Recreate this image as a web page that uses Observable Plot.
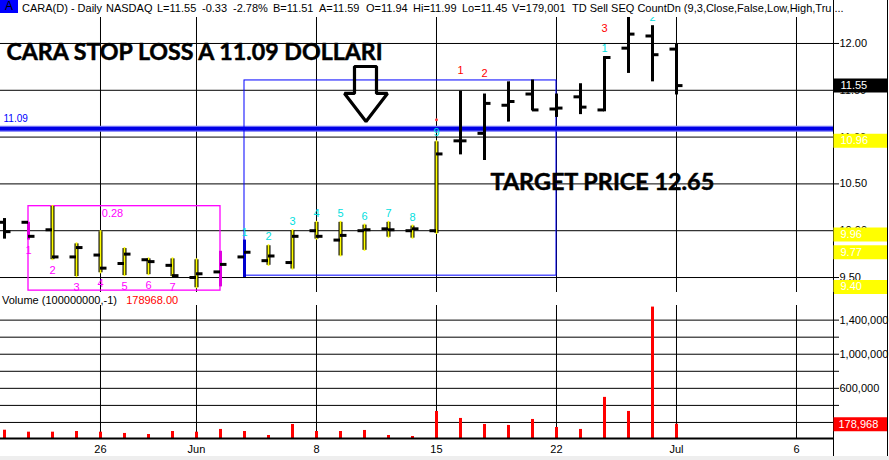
<!DOCTYPE html>
<html>
<head>
<meta charset="utf-8">
<script src="https://cdn.jsdelivr.net/npm/d3@7"></script>
<script src="https://cdn.jsdelivr.net/npm/@observablehq/plot@0.6"></script>
<style>
  body { margin: 0; background: #fff; }
  #wrap { position: relative; width: 889px; height: 460px; overflow: hidden; background: #fff;
          font-family: "Liberation Sans", Arial, sans-serif; }
  #wrap svg { position: absolute; left: 0; }
  .hdr { position: absolute; top: 0; left: 0; width: 832px; height: 17px; background: #fff; }
  .hdr span { position: absolute; top: 2px; font-size: 11px; color: #000; white-space: pre; }
  .hdr .sym { left: 0; top: 0; width: 18px; height: 13px; background: #0000ff; color: #000;
              text-align: center; font-size: 12px; line-height: 13px; }
  .vol-title { position: absolute; top: 294px; left: 2px; font-size: 11px; color: #000; white-space: pre; }
  .vol-title b { font-weight: normal; color: #ff0000; }
  .edge { position: absolute; left: 887px; top: 0; width: 1px; height: 456px; background: #000; }
  .foot { position: absolute; left: 0; top: 456px; width: 889px; height: 4px; background: #eeeeee; }
</style>
</head>
<body>
<div id="wrap"></div>
<script>
// Daily bars for CARA, May 19 – Jun 29 (index = trading-day position)
const days = ["May 19","May 20","May 21","May 22","May 26","May 27","May 28","May 29",
  "Jun 1","Jun 2","Jun 3","Jun 4","Jun 5","Jun 8","Jun 9","Jun 10","Jun 11","Jun 12",
  "Jun 15","Jun 16","Jun 17","Jun 18","Jun 19","Jun 22","Jun 23","Jun 24","Jun 25","Jun 26","Jun 29"];
const open  = [10.09,10.09,10.01, 9.72, 9.74, 9.65, 9.69, 9.63, 9.50, 9.56, 9.72, 9.68, 9.66,10.00, 9.90,10.00,10.02,10.00,10.00,10.96,11.04,11.34,11.46,11.30,11.43,11.29,11.95,12.08,11.94];
const high  = [10.13,10.09,10.27, 9.87,10.00, 9.82, 9.71, 9.71, 9.70, 9.78, 9.90, 9.85,10.01,10.10,10.10,10.07,10.10,10.06,10.96,11.49,11.46,11.59,11.61,11.46,11.57,11.86,12.30,12.19,11.99];
const low   = [ 9.91, 9.90, 9.68, 9.50, 9.54, 9.51, 9.52, 9.50, 9.38, 9.40, 9.50, 9.62, 9.58, 9.90, 9.72, 9.78, 9.92, 9.91, 9.96,10.81,10.75,11.16,11.28,11.21,11.24,11.27,11.68,11.59,11.45];
const close = [ 9.99, 9.94, 9.72, 9.82, 9.60, 9.75, 9.67, 9.52, 9.54, 9.64, 9.77, 9.73, 9.94, 9.94, 9.95,10.01,10.01,10.02,10.82,10.96,11.36,11.38,11.29,11.31,11.32,11.85,12.10,11.88,11.55];
const volume = [109000,86000,86000,94000,86000,71000,59000,94000,86000,118000,94000,47000,176000,94000,94000,106000,
  47000,35000,329000,247000,176000,165000,235000,141000,118000,494000,329000,1553000,178968];

// bar styling groups (TD setup colouring)
const yellowBars  = [2,3,4,5,6,7,8,11,12,13,14,15,16,17,18];
const magentaBars = [1,9];
const blueBars    = [10];

// TD count numbers
const buyCount   = [[1,"1"],[2,"2"],[3,"3"],[4,"4"],[5,"5"],[6,"6"],[7,"7"]];
const sellSetup  = [[10,"1"],[11,"2"],[12,"3"],[13,"4"],[14,"5"],[15,"6"],[16,"7"],[17,"8"],[18,"9"],[25,"1"],[27,"2"]];
const countdown  = [[19,"1"],[20,"2"],[25,"3"]];

// x axis labels (week starts)
const weekTicks  = [4, 8, 13, 18, 23, 28, 33];
const weekLabels = ["26", "Jun", "8", "15", "22", "Jul", "6"];

// price axis and volume axis ticks
const priceTicks = [9.5, 10, 10.5, 11, 11.5, 12];
const volTicks   = [200000, 400000, 600000, 800000, 1000000, 1200000, 1400000];

// annotations
const stopLoss = 11.09;
const target = 12.65;
const magentaBox = {x1: 1, x2: 9, y1: 9.36, y2: 10.262, label: "0.28"};
const blueBox = {x1: 10, x2: 23, y1: 9.52, y2: 11.605};
const arrowShape = [[14.583,11.754],[15.5,11.754],[15.5,11.466],[15.958,11.466],[15.063,11.167],[14.167,11.466],[14.583,11.466]];
const last = days.length - 1;
const priceFlags = [
  {v: close[last], fill: "#000"},
  {v: high[18], fill: "#ffff00"},
  {v: low[18], fill: "#ffff00"},
  {v: close[10], fill: "#ffff00"},
  {v: low[9], fill: "#ffff00"}
];

const bars = days.map((d, i) => ({i, d, o: open[i], h: high[i], l: low[i], c: close[i], v: volume[i]}));
const xDomain = [-1/6, 34.542];
const xMax = xDomain[1];
const unit = (xDomain[1] - xDomain[0]) / 833;       // x units per pixel
const sel = (ids) => bars.filter(b => ids.includes(b.i));
const plain = bars.filter(b => !yellowBars.includes(b.i) && !magentaBars.includes(b.i) && !blueBars.includes(b.i));
const lbl = (arr) => arr.map(([i, t]) => ({i, t, h: high[i], l: low[i]}));
const hasSetup = (i) => sellSetup.some(s => s[0] === i);
const font = "Liberation Sans, Arial, sans-serif";
const big = "Lato, 'Open Sans', sans-serif";

const price = Plot.plot({
  width: 889, height: 292,
  marginLeft: 0, marginRight: 56, marginTop: 0, marginBottom: 0,
  style: {fontFamily: font, fontSize: "11px", background: "transparent", overflow: "visible"},
  x: {type: "linear", domain: xDomain, axis: null},
  y: {domain: [9.34, 12.459], axis: null},
  marks: [
    Plot.ruleY(priceTicks, {stroke: "#000", strokeWidth: 1}),
    Plot.ruleX(weekTicks, {stroke: "#000", strokeWidth: 1}),
    Plot.ruleY([stopLoss], {stroke: "#6f6ff6", strokeWidth: 6}),
    Plot.ruleY([stopLoss], {stroke: "#0000e6", strokeWidth: 3.5}),
    Plot.text([stopLoss], {x: xDomain[0], y: d => d, text: d => d.toFixed(2), dx: 3, dy: -10, textAnchor: "start", fill: "#0000ff", fontSize: 10}),
    Plot.rect([magentaBox], {x1: "x1", x2: "x2", y1: "y1", y2: "y2", fill: "none", stroke: "#ff00ff", strokeWidth: 1.3}),
    Plot.text([magentaBox], {x: d => (d.x1 + d.x2) / 2 - 0.5, y: "y2", text: "label", dy: 7, fill: "#ff00ff", fontSize: 11}),
    Plot.rect([blueBox], {x1: "x1", x2: "x2", y1: "y1", y2: "y2", fill: "none", stroke: "#0000ff", strokeWidth: 1}),
    // plain OHLC bars
    Plot.ruleX(plain, {x: "i", y1: "l", y2: "h", stroke: "#000", strokeWidth: 3}),
    Plot.ruleX(sel(magentaBars), {x: "i", y1: "l", y2: "h", stroke: "#e000e0", strokeWidth: 3}),
    Plot.ruleX(sel(blueBars), {x: "i", y1: "l", y2: "h", stroke: "#0000d0", strokeWidth: 3}),
    Plot.ruleX(sel(yellowBars), {x: "i", y1: "l", y2: "h", stroke: "#000", strokeWidth: 4, insetTop: -1, insetBottom: -1}),
    Plot.ruleX(sel(yellowBars), {x: "i", y1: "l", y2: "h", stroke: "#ffff00", strokeWidth: 1.8}),
    Plot.ruleY(bars, {y: "o", x1: d => d.i - 6.5 * unit, x2: d => d.i, stroke: "#000", strokeWidth: 3}),
    Plot.ruleY(bars, {y: "c", x1: d => d.i, x2: d => d.i + 6.5 * unit, stroke: "#000", strokeWidth: 3}),
    // TD numbers
    Plot.text(lbl(buyCount), {x: "i", y: "l", text: "t", dy: 10, fill: "#ff00ff", fontSize: 11}),
    Plot.text(lbl(sellSetup), {x: "i", y: "h", text: "t", dy: -8, fill: "#00e0e0", fontSize: 11}),
    Plot.text(lbl(countdown).filter(d => !hasSetup(d.i)), {x: "i", y: "h", text: "t", dy: -21, fill: "#ff0000", fontSize: 11}),
    Plot.text(lbl(countdown).filter(d => hasSetup(d.i)), {x: "i", y: "h", text: "t", dy: -28, fill: "#ff0000", fontSize: 11}),
    Plot.dot([18], {x: d => d, y: d => high[d], dy: -21, r: 1.5, fill: "#ff4040", stroke: null}),
    // annotations
    Plot.line(arrowShape, {x: d => d[0], y: d => d[1], curve: "linear-closed", stroke: "#000", strokeWidth: 3.2, fill: "none", strokeLinejoin: "miter"}),
    Plot.text([stopLoss], {x: 0.08, y: 11.905, text: d => `CARA STOP LOSS A ${d.toFixed(2)} DOLLARI`, textAnchor: "start", fontFamily: big, fontWeight: "bold", fontSize: 23.2, fill: "#000", stroke: "#000", strokeWidth: 0.5}),
    Plot.text([target], {x: 20.25, y: 10.515, text: d => `TARGET PRICE ${d.toFixed(2)}`, textAnchor: "start", fontFamily: big, fontWeight: "bold", fontSize: 23.4, fill: "#000", stroke: "#000", strokeWidth: 0.5}),
    // right axis
    Plot.ruleX([xMax], {stroke: "#000", strokeWidth: 1}),
    Plot.axisY({anchor: "right", label: null, ticks: priceTicks, tickFormat: d => d.toFixed(2), tickSize: 5, tickPadding: 1, fontSize: 11, fill: "#000"}),
    Plot.ruleY(priceFlags, {y: "v", x1: xMax + 0.5 * unit, x2: xMax + 55 * unit, stroke: "fill", strokeWidth: 14}),
    Plot.text(priceFlags, {y: "v", x: xMax, dx: 7, text: d => d.v.toFixed(2), textAnchor: "start", fill: "#fff", fontSize: 11})
  ]
});

const vol = Plot.plot({
  width: 889, height: 168,
  marginLeft: 0, marginRight: 56, marginTop: 0, marginBottom: 21,
  style: {fontFamily: font, fontSize: "11px", background: "transparent", overflow: "visible"},
  x: {type: "linear", domain: xDomain, axis: null},
  y: {domain: [0, 1724000], axis: null},
  marks: [
    Plot.ruleY(volTicks, {stroke: "#000", strokeWidth: 1}),
    Plot.ruleX(weekTicks, {stroke: "#000", strokeWidth: 1, insetTop: 13}),
    Plot.ruleX(bars, {x: "i", y: "v", stroke: "#ff0000", strokeWidth: 3}),
    Plot.ruleY([0], {stroke: "#000", strokeWidth: 2, dy: -1}),
    Plot.ruleX([xMax], {stroke: "#000", strokeWidth: 1, insetBottom: -19}),
    Plot.axisY({anchor: "right", label: null, ticks: volTicks, tickFormat: d => (d / 200000) % 2 === 1 ? d3.format(",")(d) : "", tickSize: 5, tickPadding: 1, fontSize: 11, fill: "#000"}),
    Plot.ruleY([volume[last]], {y: d => d, x1: xMax + 0.5 * unit, x2: xMax + 55 * unit, stroke: "#ff0000", strokeWidth: 14}),
    Plot.text([volume[last]], {y: d => d, x: xMax, dx: 5, text: d => d3.format(",")(d), textAnchor: "start", fill: "#fff", fontSize: 11}),
    Plot.axisX({label: null, ticks: weekTicks, tickFormat: d => weekLabels[weekTicks.indexOf(d)], tickSize: 0, tickPadding: 6, fontSize: 11, fill: "#000"})
  ]
});

const wrap = document.getElementById("wrap");
price.style.top = "0px";
vol.style.top = "292px";
wrap.appendChild(price);
wrap.appendChild(vol);

// quote header
const chg = close[last] - close[last - 1];
const header = [
  [22, "CARA(D) - Daily"], [106, "NASDAQ"], [157, `L=${close[last].toFixed(2)}`],
  [202, chg.toFixed(2)], [233, `${(chg / close[last - 1] * 100).toFixed(2)}%`],
  [273, "B=11.51"], [319, "A=11.59"], [366, `O=${open[last].toFixed(2)}`],
  [413, `Hi=${high[last].toFixed(2)}`], [462, `Lo=${low[last].toFixed(2)}`], [512, "V=179,001"],
  [572, "TD Sell SEQ CountDn (9,3,Close,False,Low,High,Tru ..."]
];
const hdr = document.createElement("div");
hdr.className = "hdr";
hdr.innerHTML = `<span class="sym">A</span>` + header.map(([x, t]) => `<span style="left:${x}px">${t}</span>`).join("");
wrap.appendChild(hdr);

const vt = document.createElement("div");
vt.className = "vol-title";
vt.innerHTML = `Volume (100000000,-1)   <b>${volume[last].toFixed(2)}</b>`;
wrap.appendChild(vt);

const edge = document.createElement("div"); edge.className = "edge"; wrap.appendChild(edge);
const foot = document.createElement("div"); foot.className = "foot"; wrap.appendChild(foot);
</script>
</body>
</html>
